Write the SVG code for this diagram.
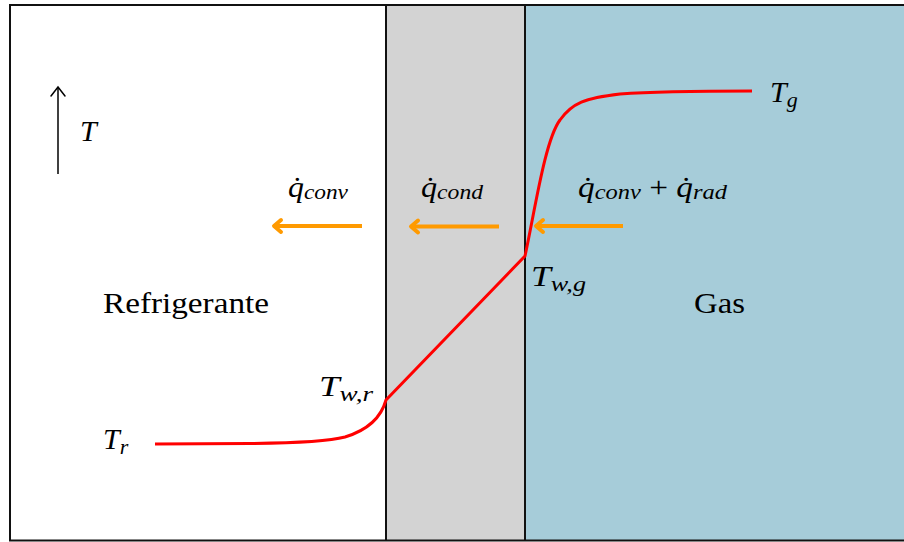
<svg xmlns="http://www.w3.org/2000/svg" width="904" height="542" viewBox="0 0 904 542">
<defs>
<style>
.lbl{font-style:italic;font-size:30px;fill:#000}
.sub{font-size:22px}
.up{font-size:29px;fill:#000}
.flux{stroke:#ff9a00;stroke-width:4;fill:none}
.head{stroke:#ff9a00;stroke-width:4;fill:none;stroke-linecap:round;stroke-linejoin:round}
.wall{stroke:#111;stroke-width:2;fill:none}
</style>
</defs>
<g id="regions">
<rect id="refrigerante-zone" x="10" y="5" width="376" height="535" fill="#ffffff"/>
<rect id="wall-zone" x="386" y="5" width="139" height="535" fill="#d3d3d3"/>
<rect id="gas-zone" x="525" y="5" width="381" height="535" fill="#a6ccd9"/>
<path class="wall" d="M906 5 H10 V540.5 H906"/>
<line class="wall" x1="386" y1="5" x2="386" y2="540.5"/>
<line class="wall" x1="525" y1="5" x2="525" y2="540.5"/>
</g>
<g id="connectors">
<path id="temperature-profile" d="M155 444 L250 443.5 C300 443 330 441 345 437 C368 430 381 418 386 400 L525 256 C535 210 545 140 560 120 C572 103 585 98 620 94 C660 91 720 91 752 91" fill="none" stroke="#ff0000" stroke-width="3"/>
<g id="T-axis">
<line x1="58" y1="174" x2="58" y2="87" stroke="#000" stroke-width="1.5"/>
<path d="M51 96 L58 87 L65 96" fill="none" stroke="#000" stroke-width="1.5" stroke-linecap="round"/>
</g>
<g id="flux-conv">
<line class="flux" x1="362" y1="226" x2="275" y2="226"/>
<path class="head" d="M281 220 L274 226 L281 232"/>
</g>
<g id="flux-cond">
<line class="flux" x1="499" y1="226.5" x2="412" y2="226.5"/>
<path class="head" d="M418 220.5 L411 226.5 L418 232.5"/>
</g>
<g id="flux-gas">
<line class="flux" x1="623" y1="226" x2="537" y2="226"/>
<path class="head" d="M543 220 L536 226 L543 232"/>
</g>
</g>
<g font-family="'Liberation Serif', 'DejaVu Serif', 'Noto Serif', Tinos, 'Times New Roman', serif">
<g id="label-T"><text class="lbl" x="80" y="141">T</text></g>
<g id="label-qconv"><text class="lbl" x="288" y="197" textLength="60" lengthAdjust="spacingAndGlyphs">q̇<tspan class="sub" dy="2">conv</tspan></text></g>
<g id="label-qcond"><text class="lbl" x="421" y="197" textLength="62" lengthAdjust="spacingAndGlyphs">q̇<tspan class="sub" dy="2">cond</tspan></text></g>
<g id="label-qgas"><text class="lbl" x="578" y="197" textLength="149" lengthAdjust="spacingAndGlyphs">q̇<tspan class="sub" dy="2">conv</tspan><tspan dy="-2" font-style="normal"> + </tspan>q̇<tspan class="sub" dy="2">rad</tspan></text></g>
<g id="label-Tg"><text class="lbl" x="770" y="102">T<tspan class="sub" dy="5">g</tspan></text></g>
<g id="label-Twg"><text class="lbl" x="531" y="286" textLength="55" lengthAdjust="spacingAndGlyphs">T<tspan class="sub" dy="5">w,g</tspan></text></g>
<g id="label-Twr"><text class="lbl" x="319" y="396" textLength="54" lengthAdjust="spacingAndGlyphs">T<tspan class="sub" dy="5">w,r</tspan></text></g>
<g id="label-Tr"><text class="lbl" x="103" y="449">T<tspan class="sub" dy="5">r</tspan></text></g>
<g id="label-refrigerante"><text class="up" x="103" y="313" textLength="166" lengthAdjust="spacingAndGlyphs">Refrigerante</text></g>
<g id="label-gas"><text class="up" x="694" y="313" textLength="51" lengthAdjust="spacingAndGlyphs">Gas</text></g>
</g>
</svg>
